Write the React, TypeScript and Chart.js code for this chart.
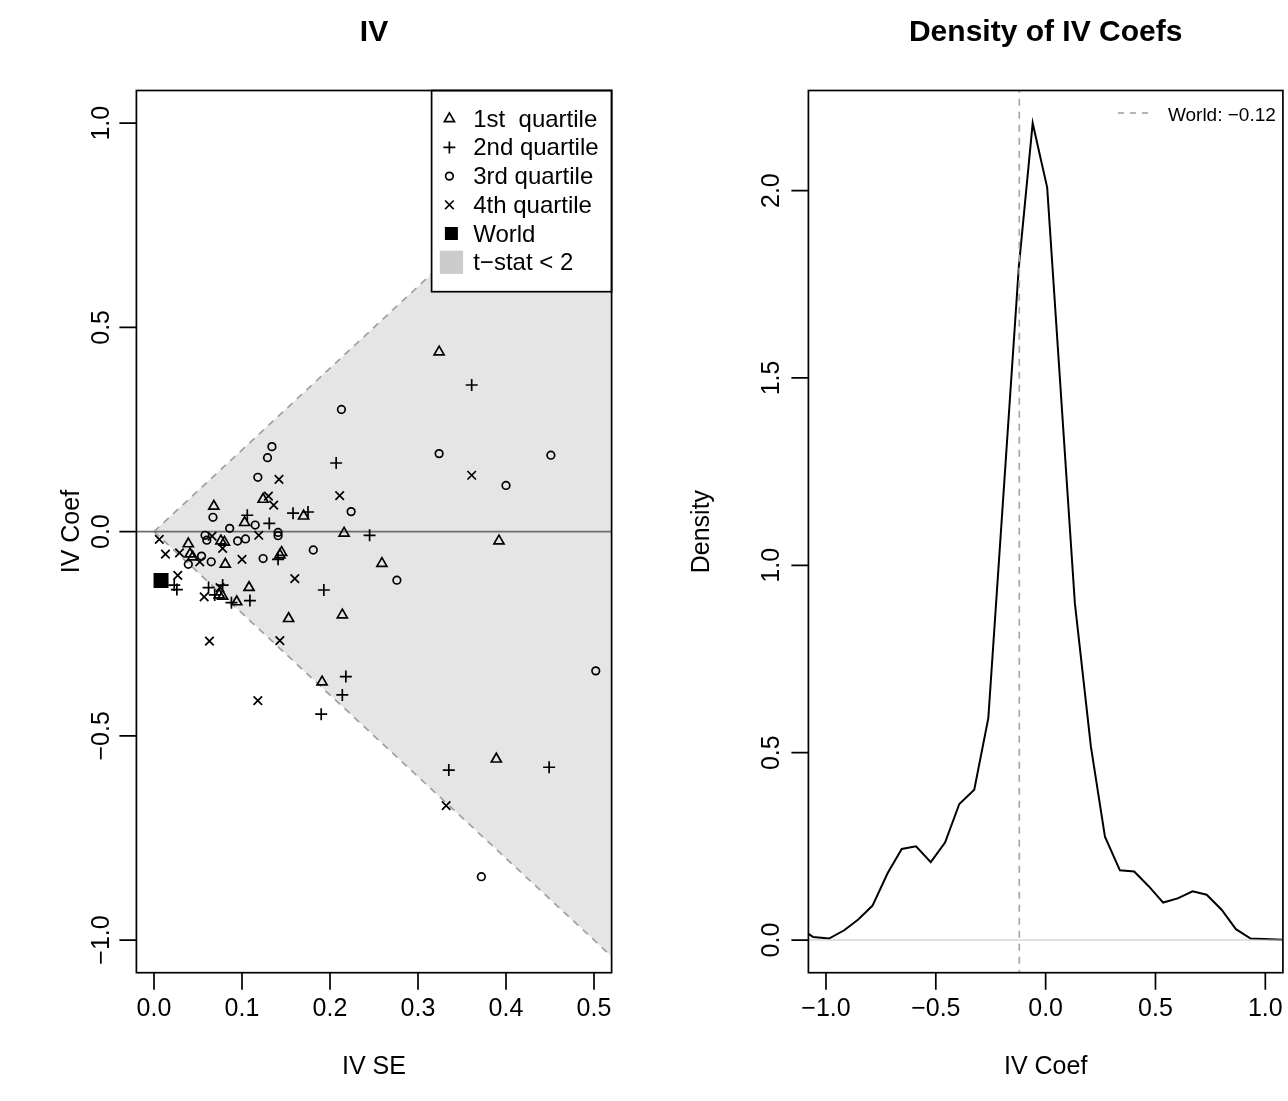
import React, { useEffect, useRef } from 'react';
import { Chart, registerables } from 'chart.js';

Chart.register(...registerables);

const FONT = '"Liberation Sans", Arial, Helvetica, sans-serif';

// ---------------- Left panel: IV coefficient vs. IV standard error ----------------
const Q1_SE = [0.324, 0.124, 0.068, 0.170, 0.103, 0.216, 0.076, 0.080, 0.039, 0.041, 0.044, 0.081, 0.145, 0.143, 0.074, 0.078, 0.094, 0.108, 0.153, 0.214, 0.191, 0.259, 0.392, 0.389];
const Q1_COEF = [0.440, 0.079, 0.062, 0.038, 0.022, -0.004, -0.023, -0.026, -0.030, -0.055, -0.062, -0.080, -0.051, -0.057, -0.155, -0.158, -0.172, -0.137, -0.213, -0.204, -0.368, -0.078, -0.023, -0.557];

const Q2_SE = [0.361, 0.207, 0.106, 0.158, 0.175, 0.131, 0.245, 0.141, 0.193, 0.023, 0.026, 0.062, 0.078, 0.069, 0.088, 0.109, 0.218, 0.214, 0.190, 0.335, 0.449];
const Q2_COEF = [0.359, 0.168, 0.040, 0.045, 0.048, 0.020, -0.009, -0.068, -0.143, -0.131, -0.142, -0.137, -0.131, -0.155, -0.174, -0.169, -0.355, -0.400, -0.447, -0.584, -0.577];

const Q3_SE = [0.213, 0.134, 0.129, 0.118, 0.224, 0.067, 0.115, 0.086, 0.141, 0.141, 0.058, 0.060, 0.095, 0.104, 0.054, 0.065, 0.039, 0.124, 0.181, 0.324, 0.451, 0.400, 0.276, 0.502, 0.372];
const Q3_COEF = [0.299, 0.208, 0.181, 0.133, 0.049, 0.035, 0.016, 0.008, -0.002, -0.010, -0.009, -0.021, -0.023, -0.018, -0.060, -0.074, -0.080, -0.066, -0.045, 0.191, 0.187, 0.113, -0.119, -0.341, -0.845];

const Q4_SE = [0.142, 0.211, 0.130, 0.136, 0.119, 0.066, 0.078, 0.006, 0.013, 0.029, 0.052, 0.100, 0.361, 0.160, 0.027, 0.075, 0.057, 0.063, 0.143, 0.118, 0.332];
const Q4_COEF = [0.128, 0.088, 0.087, 0.065, -0.009, -0.011, -0.041, -0.019, -0.055, -0.052, -0.074, -0.068, 0.138, -0.115, -0.107, -0.137, -0.160, -0.268, -0.267, -0.414, -0.671];

const WORLD_SE = [0.008];
const WORLD_COEF = [-0.12];

// boundaries of the |t| < 2 region (coef = +/- 2 * SE)
const BOUND_SE = [0, 0.6];
const BOUND_UPPER = [0, 1.2];
const BOUND_LOWER = [0, -1.2];
const ZERO_SE = [-1, 1];
const ZERO_COEF = [0, 0];

const SE_TICKS = [0, 0.1, 0.2, 0.3, 0.4, 0.5];
const COEF_TICKS = [-1, -0.5, 0, 0.5, 1];
const LEGEND_LABELS = ['1st  quartile', '2nd quartile', '3rd quartile', '4th quartile', 'World', 't\u2212stat < 2'];

// ---------------- Right panel: density of IV coefficients ----------------
const DENS_X = [-1.081, -1.058, -0.986, -0.917, -0.853, -0.788, -0.719, -0.655, -0.590, -0.523, -0.458, -0.393, -0.325, -0.261, -0.122, -0.059, 0.007, 0.133, 0.206, 0.270, 0.338, 0.403, 0.470, 0.535, 0.601, 0.669, 0.733, 0.801, 0.866, 0.933, 1.081];
const DENS_Y = [0.017, 0.008, 0.004, 0.026, 0.055, 0.092, 0.179, 0.243, 0.250, 0.208, 0.260, 0.363, 0.401, 0.592, 1.797, 2.180, 2.008, 0.899, 0.516, 0.276, 0.186, 0.183, 0.143, 0.100, 0.111, 0.130, 0.121, 0.081, 0.029, 0.004, 0.001];
const WORLD_VALUE = -0.12;
const VLINE_X = [WORLD_VALUE, WORLD_VALUE];
const VLINE_Y = [-1, 3];
const DZERO_X = [-2, 2];
const DZERO_Y = [0, 0];
const DENS_X_TICKS = [-1, -0.5, 0, 0.5, 1];
const DENS_Y_TICKS = [0, 0.5, 1, 1.5, 2];
const DENS_LEGEND = 'World: \u22120.12';

// ---------------- helpers ----------------
const pts = (xs: number[], ys: number[]) => xs.map((x, i) => ({ x, y: ys[i] }));
const fmt = (v: number) => v.toFixed(1).replace('-', '\u2212');
const TICK_LEN = 17;
const LW = 1.7;

type Frame = {
  title: string;
  xTitle: string;
  yTitle: string;
  xTicks: number[];
  yTicks: number[];
  yTickGap: number;
  yTitleGap: number;
};

function makeFramePlugin(f: Frame, extra?: (chart: any) => void) {
  return {
    id: 'rframe',
    afterDatasetsDraw(chart: any) {
      if (extra) extra(chart);
    },
    afterDraw(chart: any) {
      const { ctx, chartArea: a } = chart;
      const xs = chart.scales.x;
      const ys = chart.scales.y;
      ctx.save();
      ctx.setLineDash([]);
      ctx.strokeStyle = '#000';
      ctx.lineWidth = LW;
      ctx.strokeRect(a.left, a.top, a.right - a.left, a.bottom - a.top);
      ctx.beginPath();
      f.xTicks.forEach((v) => {
        const p = xs.getPixelForValue(v);
        ctx.moveTo(p, a.bottom);
        ctx.lineTo(p, a.bottom + TICK_LEN);
      });
      f.yTicks.forEach((v) => {
        const p = ys.getPixelForValue(v);
        ctx.moveTo(a.left, p);
        ctx.lineTo(a.left - TICK_LEN, p);
      });
      ctx.stroke();
      ctx.fillStyle = '#000';
      ctx.font = `25px ${FONT}`;
      ctx.textAlign = 'center';
      ctx.textBaseline = 'alphabetic';
      f.xTicks.forEach((v) => ctx.fillText(fmt(v), xs.getPixelForValue(v), a.bottom + 43));
      f.yTicks.forEach((v) => {
        ctx.save();
        ctx.translate(a.left - f.yTickGap, ys.getPixelForValue(v));
        ctx.rotate(-Math.PI / 2);
        ctx.fillText(fmt(v), 0, 0);
        ctx.restore();
      });
      const cx = (a.left + a.right) / 2;
      const cy = (a.top + a.bottom) / 2;
      ctx.fillText(f.xTitle, cx, a.bottom + 101);
      ctx.save();
      ctx.translate(a.left - f.yTitleGap, cy);
      ctx.rotate(-Math.PI / 2);
      ctx.fillText(f.yTitle, 0, 0);
      ctx.restore();
      ctx.font = `bold 30px ${FONT}`;
      ctx.fillText(f.title, cx, 41);
      ctx.restore();
    },
  };
}

function drawLeftLegend(chart: any) {
  const { ctx, chartArea: a } = chart;
  const left = a.right - 180;
  const top = a.top;
  const bottom = a.top + 201.2;
  ctx.save();
  ctx.setLineDash([]);
  ctx.fillStyle = '#fff';
  ctx.fillRect(left, top, a.right - left, bottom - top);
  ctx.strokeStyle = '#000';
  ctx.lineWidth = LW;
  ctx.strokeRect(left, top, a.right - left, bottom - top);
  const sx = left + 17.8;
  const tx = left + 41.6;
  ctx.font = `24px ${FONT}`;
  ctx.textAlign = 'left';
  ctx.textBaseline = 'alphabetic';
  LEGEND_LABELS.forEach((label, i) => {
    const base = a.top + 36.2 + 28.7 * i;
    const cy = base - 8;
    ctx.strokeStyle = '#000';
    ctx.fillStyle = '#000';
    ctx.lineWidth = LW;
    ctx.beginPath();
    if (i === 0) {
      const r = 5.8;
      ctx.moveTo(sx, cy - r);
      ctx.lineTo(sx + r * Math.sin((2 * Math.PI) / 3), cy - r * Math.cos((2 * Math.PI) / 3));
      ctx.lineTo(sx - r * Math.sin((2 * Math.PI) / 3), cy - r * Math.cos((2 * Math.PI) / 3));
      ctx.closePath();
      ctx.stroke();
    } else if (i === 1) {
      const r = 6;
      ctx.moveTo(sx - r, cy);
      ctx.lineTo(sx + r, cy);
      ctx.moveTo(sx, cy - r);
      ctx.lineTo(sx, cy + r);
      ctx.stroke();
    } else if (i === 2) {
      ctx.arc(sx, cy, 3.8, 0, Math.PI * 2);
      ctx.stroke();
    } else if (i === 3) {
      const r = 4.3;
      ctx.moveTo(sx - r, cy - r);
      ctx.lineTo(sx + r, cy + r);
      ctx.moveTo(sx - r, cy + r);
      ctx.lineTo(sx + r, cy - r);
      ctx.stroke();
    } else if (i === 4) {
      ctx.fillRect(sx + 2 - 6.5, cy - 6.5, 13, 13);
    } else {
      ctx.fillStyle = '#cccccc';
      ctx.fillRect(sx + 2 - 11.6, cy - 11.6, 23.3, 23.3);
    }
    ctx.fillStyle = '#000';
    ctx.fillText(label, tx, base);
  });
  ctx.restore();
}

function drawRightLegend(chart: any) {
  const { ctx, chartArea: a } = chart;
  const y = a.top + 22.5;
  ctx.save();
  ctx.strokeStyle = '#a8a8a8';
  ctx.lineWidth = LW;
  ctx.setLineDash([6, 6]);
  ctx.beginPath();
  ctx.moveTo(a.right - 165, y);
  ctx.lineTo(a.right - 129, y);
  ctx.stroke();
  ctx.setLineDash([]);
  ctx.fillStyle = '#000';
  ctx.font = `19px ${FONT}`;
  ctx.textAlign = 'left';
  ctx.textBaseline = 'alphabetic';
  ctx.fillText(DENS_LEGEND, a.right - 115, a.top + 30.2);
  ctx.restore();
}

const markerDataset = (label: string, xs: number[], ys: number[], style: string, radius: number, filled = false) => ({
  label,
  data: pts(xs, ys),
  showLine: false,
  pointStyle: style,
  pointRadius: radius,
  pointBorderWidth: filled ? 0 : LW,
  pointBorderColor: '#000',
  pointBackgroundColor: filled ? '#000' : 'rgba(0,0,0,0)',
});

function leftConfig(): any {
  return {
    type: 'scatter',
    data: {
      datasets: [
        markerDataset('World', WORLD_SE, WORLD_COEF, 'rect', 10.6, true),
        markerDataset('1st quartile', Q1_SE, Q1_COEF, 'triangle', 5.8),
        markerDataset('2nd quartile', Q2_SE, Q2_COEF, 'cross', 6),
        markerDataset('3rd quartile', Q3_SE, Q3_COEF, 'circle', 3.8),
        markerDataset('4th quartile', Q4_SE, Q4_COEF, 'crossRot', 6),
        {
          label: 'zero',
          data: pts(ZERO_SE, ZERO_COEF),
          showLine: true,
          pointRadius: 0,
          borderColor: '#6e6e6e',
          borderWidth: LW,
          clip: 0,
        },
        {
          label: 't-stat upper',
          data: pts(BOUND_SE, BOUND_UPPER),
          showLine: true,
          pointRadius: 0,
          borderColor: '#a0a0a0',
          borderWidth: LW,
          borderDash: [7, 6],
          backgroundColor: '#e5e5e5',
          fill: '+1',
          clip: 0,
        },
        {
          label: 't-stat lower',
          data: pts(BOUND_SE, BOUND_LOWER),
          showLine: true,
          pointRadius: 0,
          borderColor: '#a0a0a0',
          borderWidth: LW,
          borderDash: [7, 6],
          fill: false,
          clip: 0,
        },
      ],
    },
    options: {
      responsive: false,
      maintainAspectRatio: false,
      animation: false,
      events: [],
      layout: { padding: { left: 136.4, right: 32.4, top: 90.5, bottom: 128.3 } },
      scales: {
        x: { type: 'linear', display: false, min: -0.02, max: 0.52 },
        y: { type: 'linear', display: false, min: -1.08, max: 1.08 },
      },
      plugins: {
        legend: { display: false },
        tooltip: { enabled: false },
        filler: { drawTime: 'beforeDatasetsDraw' },
      },
    },
    plugins: [
      makeFramePlugin(
        { title: 'IV', xTitle: 'IV SE', yTitle: 'IV Coef', xTicks: SE_TICKS, yTicks: COEF_TICKS, yTickGap: 27, yTitleGap: 57.4 },
        drawLeftLegend,
      ),
    ],
  };
}

function rightConfig(): any {
  return {
    type: 'scatter',
    data: {
      datasets: [
        {
          label: 'World',
          data: pts(VLINE_X, VLINE_Y),
          showLine: true,
          pointRadius: 0,
          borderColor: '#a8a8a8',
          borderWidth: LW,
          borderDash: [7, 6],
          clip: 0,
        },
        {
          label: 'zero',
          data: pts(DZERO_X, DZERO_Y),
          showLine: true,
          pointRadius: 0,
          borderColor: '#c4c4c4',
          borderWidth: 1,
          clip: 0,
        },
        {
          label: 'Density',
          data: pts(DENS_X, DENS_Y),
          showLine: true,
          pointRadius: 0,
          borderColor: '#000',
          borderWidth: 2,
          tension: 0,
          clip: 0,
        },
      ],
    },
    options: {
      responsive: false,
      maintainAspectRatio: false,
      animation: false,
      events: [],
      layout: { padding: { left: 164.4, right: 5.1, top: 90.5, bottom: 128.3 } },
      scales: {
        x: { type: 'linear', display: false, min: -1.08, max: 1.08 },
        y: { type: 'linear', display: false, min: -0.0872, max: 2.2672 },
      },
      plugins: {
        legend: { display: false },
        tooltip: { enabled: false },
      },
    },
    plugins: [
      makeFramePlugin(
        { title: 'Density of IV Coefs', xTitle: 'IV Coef', yTitle: 'Density', xTicks: DENS_X_TICKS, yTicks: DENS_Y_TICKS, yTickGap: 29.4, yTitleGap: 99.4 },
        drawRightLegend,
      ),
    ],
  };
}

export default function App() {
  const leftRef = useRef<HTMLCanvasElement>(null);
  const rightRef = useRef<HTMLCanvasElement>(null);
  useEffect(() => {
    const c1 = new Chart(leftRef.current as HTMLCanvasElement, leftConfig());
    const c2 = new Chart(rightRef.current as HTMLCanvasElement, rightConfig());
    return () => {
      c1.destroy();
      c2.destroy();
    };
  }, []);
  return (
    <div style={{ position: 'absolute', left: 0, top: 0, width: 1288, height: 1101, background: '#fff', overflow: 'hidden' }}>
      <canvas ref={leftRef} width={644} height={1101} style={{ position: 'absolute', left: 0, top: 0 }} />
      <canvas ref={rightRef} width={644} height={1101} style={{ position: 'absolute', left: 644, top: 0 }} />
    </div>
  );
}
